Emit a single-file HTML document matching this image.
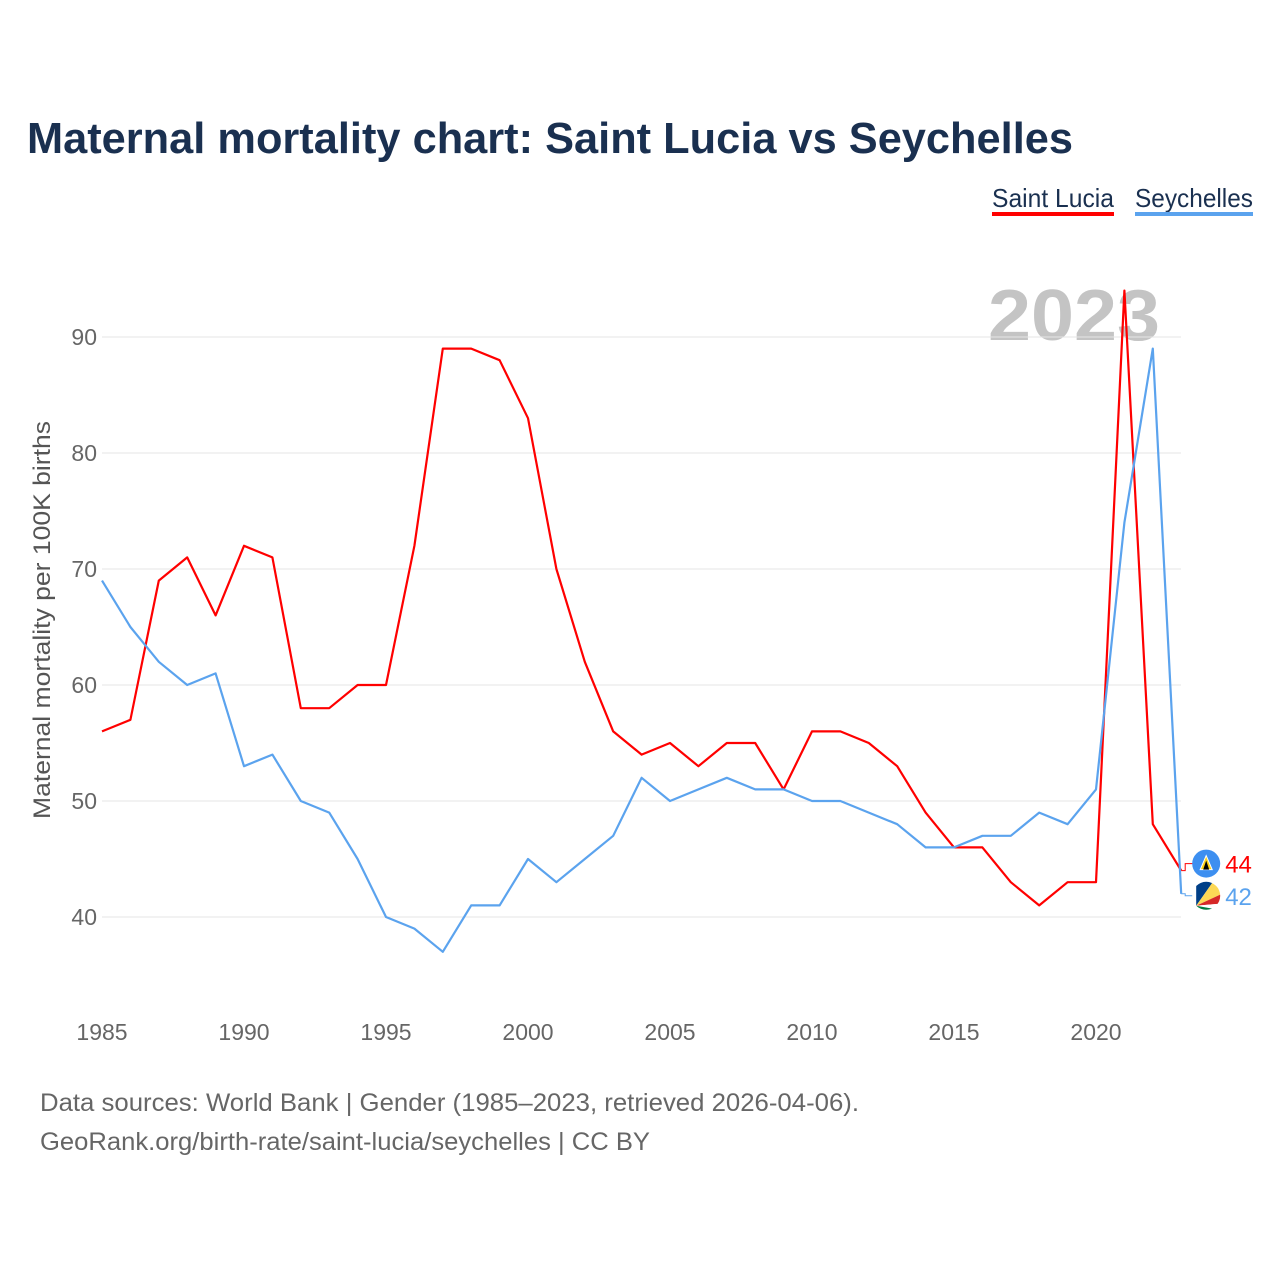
<!DOCTYPE html>
<html><head><meta charset="utf-8">
<style>
body{margin:0;background:#fff;font-family:"Liberation Sans",sans-serif;}
svg text{font-family:"Liberation Sans",sans-serif;}
</style></head>
<body>
<svg id="chart" width="1280" height="1280">
<text x="27" y="153" font-size="44" font-weight="bold" fill="#1a3050" textLength="1046" lengthAdjust="spacingAndGlyphs">Maternal mortality chart: Saint Lucia vs Seychelles</text>
<g><text x="992" y="207" font-size="26" fill="#1a3050" textLength="122" lengthAdjust="spacingAndGlyphs">Saint Lucia</text><rect x="992" y="212" width="122" height="4" fill="#ff0000"/></g>
<g><text x="1135" y="207" font-size="26" fill="#1a3050" textLength="118" lengthAdjust="spacingAndGlyphs">Seychelles</text><rect x="1135" y="212" width="118" height="4" fill="#5ba3ee"/></g>
<text x="1160" y="340" font-size="72" font-weight="bold" fill="#c4c4c4" text-anchor="end" textLength="172" lengthAdjust="spacingAndGlyphs">2023</text>
<text transform="translate(50,620) rotate(-90)" font-size="24" fill="#555" text-anchor="middle" textLength="398" lengthAdjust="spacingAndGlyphs">Maternal mortality per 100K births</text>
<g id="grid"></g><g id="lines"></g>
<text x="40" y="1111" font-size="25" fill="#666" textLength="819" lengthAdjust="spacingAndGlyphs">Data sources: World Bank | Gender (1985–2023, retrieved 2026-04-06).</text>
<text x="40" y="1150" font-size="25" fill="#666" textLength="610" lengthAdjust="spacingAndGlyphs">GeoRank.org/birth-rate/saint-lucia/seychelles | CC BY</text>
</svg>
<script>
const years=[];for(let y=1985;y<=2023;y++)years.push(y);
const saintLucia=[56,57,69,71,66,72,71,58,58,60,60,72,89,89,88,83,70,62,56,54,55,53,55,55,51,56,56,55,53,49,46,46,43,41,43,43,94,48,44];
const seychelles=[69,65,62,60,61,53,54,50,49,45,40,39,37,41,41,45,43,45,47,52,50,51,52,51,51,50,50,49,48,46,46,47,47,49,48,51,74,89,42];
const yTicks=[40,50,60,70,80,90];
const xTicks=[1985,1990,1995,2000,2005,2010,2015,2020];
const X=v=>102+(v-1985)*(1096-102)/35;
const Y=v=>917-(v-40)*11.6;
const NS="http://www.w3.org/2000/svg";
function mk(t,a,p){const e=document.createElementNS(NS,t);for(const k in a)e.setAttribute(k,a[k]);p.appendChild(e);return e;}
const grid=document.getElementById('grid'),lines=document.getElementById('lines');
yTicks.forEach(t=>{
 const l=mk('line',{x1:102,x2:1181,y1:Y(t),y2:Y(t),stroke:'#e6e6e6','stroke-width':1},grid);
 
 
 const tx=mk('text',{x:97,y:Y(t)+8,'font-size':23,fill:'#666','text-anchor':'end'},grid);tx.textContent=t;
 
 
});
xTicks.forEach(t=>{
 const tx=mk('text',{x:X(t),y:1040,'font-size':23,fill:'#666','text-anchor':'middle'},grid);tx.textContent=t;
 
 
});
function series(vals,color,name,lblOff,flag){
 const p=mk('polyline',{points:vals.map((v,i)=>X(years[i])+','+Y(v)).join(' '),fill:'none',stroke:color,'stroke-width':2.2,'stroke-linejoin':'round'},lines);
 
 
 const last=vals[vals.length-1],lx=X(2023),ly=Y(last)+lblOff;
 mk('polyline',{points:lx+','+Y(last)+' '+(lx+4)+','+Y(last)+' '+(lx+4)+','+ly+' '+(lx+12)+','+ly,fill:'none',stroke:color,'stroke-width':1},lines);
 const g=mk('g',{},lines);
 
 
 const cx=lx+25;
 if(flag==='lc'){
  mk('circle',{cx:cx,cy:ly,r:14,fill:'#3d8ff0'},g);
  mk('polygon',{points:(cx)+','+(ly-8)+' '+(cx-6)+','+(ly+6)+' '+(cx+6)+','+(ly+6),fill:'#fcd116',stroke:'#fff','stroke-width':1},g);
  mk('polygon',{points:(cx)+','+(ly-3)+' '+(cx-3)+','+(ly+6)+' '+(cx+3)+','+(ly+6),fill:'#000'},g);
 } else {
  mk('circle',{cx:cx,cy:ly,r:14,fill:'#ffffff'},g);
  const r=14,bx=cx-10,by=ly+10;
  const cols=['#003f87','#fcd856','#d62828','#ffffff','#007a3d'];
  const ang=[-90,-55,-25,-5,10,90];
  cols.forEach((c,i)=>{
   const a1=ang[i]*Math.PI/180,a2=ang[i+1]*Math.PI/180,R=40;
   mk('polygon',{points:bx+','+by+' '+(bx+R*Math.cos(a1))+','+(by+R*Math.sin(a1))+' '+(bx+R*Math.cos(a2))+','+(by+R*Math.sin(a2)),fill:c,'clip-path':'url(#sc-clip)'},g);
  });
  const defs=mk('defs',{},g);const cp=mk('clipPath',{id:'sc-clip'},defs);mk('circle',{cx:cx,cy:ly,r:r},cp);
 }
 const t=mk('text',{x:lx+44,y:ly+9,'font-size':24,fill:color},lines);t.textContent=last;
 
 
}
series(saintLucia,'#ff0000','saint-lucia',-7,'lc');
series(seychelles,'#5ba3ee','seychelles',2,'sc');
</script>
</body></html>
